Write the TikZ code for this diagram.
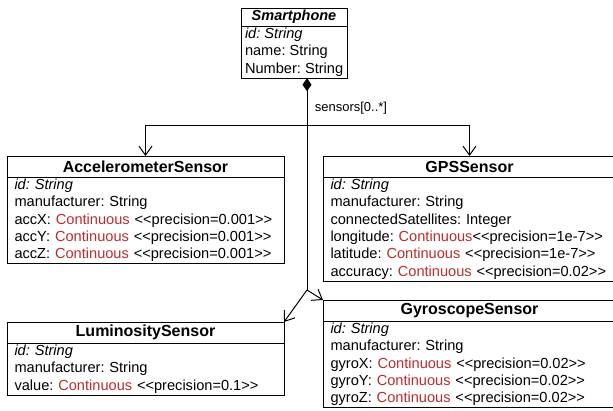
\documentclass[tikz,border=0pt]{standalone}
\usepackage{fontspec}
\setmainfont{Liberation Sans}
\usetikzlibrary{arrows.meta, positioning}

\definecolor{ctred}{RGB}{185,45,45}
\newcommand{\cont}{\textcolor{ctred}{Continuous}}
\newcommand{\precis}[1]{<{}<precision=#1>{}>}

\tikzset{
	classname/.style={draw, line width=1pt, outer sep=0pt, inner sep=0pt, minimum height=21pt, anchor=north west, font=\fontsize{16}{19}\selectfont\bfseries},
	attrs/.style={draw, line width=1pt, outer sep=0pt, inner xsep=7.5pt, inner ysep=2pt, align=left, font=\fontsize{14.6}{17.3}\selectfont\frenchspacing},
	assoc/.style={-{Straight Barb[length=9pt, width=13pt]}, line width=1pt},
	comp/.style={{Diamond[length=13pt, width=9pt]}-, line width=1pt}
}

\begin{document}
\begin{tikzpicture}[x=1pt, y=-1pt]
			\useasboundingbox (0,0) rectangle (613,410);

			\node (phone)[classname, minimum width=106pt, minimum height=18pt, font=\fontsize{14.5}{17}\selectfont\bfseries\itshape] at (241,8) {Smartphone};
			\node (phoneattr)[attrs, inner xsep=4pt, minimum width=106pt, below right=0pt and 0pt of phone.south west] {\textit{id: String}\\name: String\\Number: String};

			\node (accel)[classname, minimum width=277pt] at (7,156) {AccelerometerSensor};
			\node (accelattr)[attrs, text width=262pt, below right=0pt and 0pt of accel.south west] {\textit{id: String}\\manufacturer: String\\accX: \cont{} \precis{0.001}\\accY: \cont{} \precis{0.001}\\accZ: \cont{} \precis{0.001}};

			\node (gps)[classname, minimum width=293pt] at (323,156) {GPSSensor};
			\node (gpsattr)[attrs, text width=278pt, below right=0pt and 0pt of gps.south west] {\textit{id: String}\\manufacturer: String\\connectedSatellites: Integer\\longitude: \cont\precis{1e-7}\\latitude: \cont{} \precis{1e-7}\\accuracy: \cont{} \precis{0.02}};

			\node (lumi)[classname, minimum width=277pt] at (7,322) {LuminositySensor};
			\node (lumiattr)[attrs, text width=262pt, below right=0pt and 0pt of lumi.south west] {\textit{id: String}\\manufacturer: String\\value: \cont{} \precis{0.1}};

			\node (gyro)[classname, minimum width=293pt] at (323,300) {GyroscopeSensor};
			\node (gyroattr)[attrs, text width=278pt, below right=0pt and 0pt of gyro.south west] {\textit{id: String}\\manufacturer: String\\gyroX: \cont{} \precis{0.02}\\gyroY: \cont{} \precis{0.02}\\gyroZ: \cont{} \precis{0.02}};

			\coordinate (bus) at (307,125);
			\coordinate (hub) at (307,290);

			\draw[comp] (phoneattr.south -| hub) -- node[pos=0.14, right=4pt, font=\fontsize{13}{15}\selectfont] {sensors[0..*]} (hub);
			\draw[assoc] (bus) -| (accel.north);
			\draw[assoc] (bus) -| (gps.north);
			\draw[assoc] (hub) -- (lumi.north east);
			\draw[assoc] (hub) -- (gyro.north west);
		\end{tikzpicture}
\end{document}
